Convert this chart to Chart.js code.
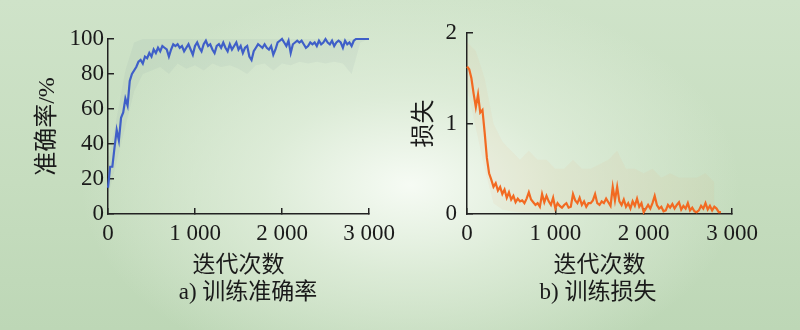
<!DOCTYPE html>
<html>
<head>
<meta charset="utf-8">
<script src="https://cdn.jsdelivr.net/npm/chart.js@4.4.1/dist/chart.umd.min.js"></script>
<style>
  html, body { margin: 0; padding: 0; }
  body {
    width: 800px; height: 330px; position: relative; overflow: hidden;
    background:
      radial-gradient(ellipse 330px 200px at 410px 185px, rgba(246,251,244,1) 0%, rgba(226,239,221,0.8) 45%, rgba(205,226,199,0) 100%),
      linear-gradient(180deg, #cfe3c9 0%, #c6ddbf 55%, #bdd7b6 100%);
  }
  .box { position: absolute; top: 0; width: 400px; height: 330px; }
  .cap {
    position: absolute; top: 280px; transform: translateX(-50%);
    font: 23px/23px "Liberation Serif", "Noto Sans CJK SC"; color: #1a1a1a; white-space: nowrap;
  }
</style>
</head>
<body>
<canvas id="accChart" class="box" style="left:0" width="400" height="330"></canvas>
<canvas id="lossChart" class="box" style="left:400px" width="400" height="330"></canvas>
<div class="cap" style="left:248px">a) 训练准确率</div>
<div class="cap" style="left:598px">b) 训练损失</div>
<script>
// smoothed curves sampled every 25 iterations, raw band every 100
const ITER_STEP = 25;
const BAND_STEP = 100;

const xTickValues = [0, 1000, 2000, 3000];
const xTickLabels = ['0', '1 000', '2 000', '3 000'];
const accTickValues = [0, 20, 40, 60, 80, 100];
const lossTickValues = [0, 1, 2];

const accuracy = [
  15, 27, 27, 38, 48, 42, 55, 58,
  66, 62, 76, 80, 82, 84, 87, 88,
  86, 90, 89, 92, 90, 94, 92, 95,
  93, 96, 95, 94, 90, 94, 97, 96,
  97, 95, 96, 93, 95, 97, 94, 91,
  96, 98, 95, 93, 97, 99, 96, 97,
  94, 92, 96, 97, 95, 98, 95, 93,
  97, 94, 96, 98, 94, 96, 92, 95,
  96, 90, 88, 93, 95, 97, 96, 95,
  97, 95, 94, 96, 91, 94, 98, 99,
  100, 98, 96, 99, 92, 97, 98, 99,
  98, 99, 97, 95, 96, 98, 97, 98,
  96, 99, 97, 98, 100, 98, 97, 99,
  96, 98, 99, 98, 95, 99, 97, 98,
  96, 99, 100, 100, 100, 100, 100, 100,
  100,
];
const accBandHigh = [30, 55, 82, 98, 100, 100, 100, 100, 100, 100, 100, 100, 100, 100, 100, 100,
  100, 100, 100, 100, 100, 100, 100, 100, 100, 100, 100, 100, 100, 100, 100];
const accBandLow = [10, 30, 50, 70, 80, 82, 84, 80, 86, 83, 85, 82, 86, 84, 85, 83,
  80, 85, 86, 82, 86, 85, 87, 86, 87, 86, 87, 86, 80, 98, 100];

const loss = [
  1.63, 1.60, 1.50, 1.33, 1.18, 1.32, 1.12, 1.15,
  0.90, 0.62, 0.45, 0.38, 0.30, 0.34, 0.26, 0.30,
  0.22, 0.27, 0.18, 0.24, 0.16, 0.20, 0.13, 0.17,
  0.14, 0.15, 0.12, 0.17, 0.24, 0.16, 0.13, 0.10,
  0.12, 0.08, 0.22, 0.13, 0.20, 0.14, 0.10, 0.18,
  0.06, 0.12, 0.09, 0.07, 0.10, 0.12, 0.07, 0.08,
  0.22, 0.15, 0.12, 0.18, 0.10, 0.14, 0.08, 0.12,
  0.12, 0.15, 0.22, 0.12, 0.10, 0.14, 0.12, 0.17,
  0.13, 0.09, 0.30, 0.15, 0.30, 0.14, 0.10, 0.16,
  0.08, 0.12, 0.06, 0.14, 0.09, 0.17, 0.08, 0.12,
  0.02, 0.06, 0.10, 0.06, 0.12, 0.20, 0.10, 0.06,
  0.08, 0.03, 0.04, 0.10, 0.07, 0.11, 0.06, 0.10,
  0.13, 0.05, 0.09, 0.06, 0.12, 0.04, 0.07, 0.03,
  0.02, 0.04, 0.09, 0.06, 0.12, 0.05, 0.09, 0.04,
  0.08, 0.06, 0.02, 0.02,
];
const lossBandHigh = [1.9, 1.8, 1.5, 1.0, 0.8, 0.7, 0.6, 0.7, 0.6, 0.6,
  0.5, 0.5, 0.6, 0.5, 0.5, 0.55, 0.6, 0.7, 0.5, 0.5,
  0.45, 0.5, 0.4, 0.45, 0.4, 0.4, 0.4, 0.45, 0.35];
const lossBandLow = [1.4, 0.95, 0.5, 0.12, 0.05, 0.03, 0.02, 0.02, 0.02, 0.02,
  0.01, 0.01, 0.01, 0.01, 0.01, 0.01, 0.01, 0.01, 0.01, 0.01,
  0.01, 0.01, 0.01, 0.01, 0.01, 0.01, 0.01, 0.01, 0.01];

const TEXT = '#1a1a1a';
const AXIS = '#222';
const SERIF = '"Liberation Serif", "Noto Sans CJK SC"';

function toPoints(values, step) {
  return values.map((y, i) => ({ x: i * step, y }));
}

function setTicks(values) {
  return (scale) => { scale.ticks = values.map((value) => ({ value })); };
}

function createCurveChart(canvasId, cfg) {
  const ctx = document.getElementById(canvasId).getContext('2d');
  return new Chart(ctx, {
    type: 'line',
    data: {
      datasets: [
        { data: toPoints(cfg.values, ITER_STEP), borderColor: cfg.color, borderWidth: 2.2,
          pointRadius: 0, tension: 0, fill: false, order: 0, clip: 4 },
        { data: toPoints(cfg.bandHigh, BAND_STEP), borderWidth: 0, pointRadius: 0,
          backgroundColor: cfg.bandColor, fill: '+1', order: 1 },
        { data: toPoints(cfg.bandLow, BAND_STEP), borderWidth: 0, pointRadius: 0,
          fill: false, order: 1 },
      ],
    },
    options: {
      responsive: false,
      animation: false,
      layout: { padding: cfg.padding },
      plugins: { legend: { display: false }, tooltip: { enabled: false } },
      scales: {
        x: {
          type: 'linear', min: 0, max: 3000,
          afterBuildTicks: setTicks(xTickValues),
          afterFit: (s) => { s.height = 66; s.paddingLeft = 0; s.paddingRight = 0; },
          border: { display: true, color: AXIS, width: 1.5 },
          grid: { drawOnChartArea: false, drawTicks: true, tickLength: -6, color: AXIS, lineWidth: 1.5 },
          ticks: { padding: 12, color: TEXT, font: { family: SERIF, size: 23 },
                   maxRotation: 0, callback: (v, i) => xTickLabels[i] },
          title: { display: true, text: '迭代次数', color: TEXT, padding: 0,
                   font: { family: SERIF, size: 23 } },
        },
        y: {
          min: cfg.yMin, max: cfg.yMax,
          afterBuildTicks: setTicks(cfg.yTicks),
          afterFit: (s) => { s.width = cfg.yWidth; s.paddingTop = 0; s.paddingBottom = 0; },
          border: { display: true, color: AXIS, width: 1.5 },
          grid: { drawOnChartArea: false, drawTicks: true, tickLength: -6, color: AXIS, lineWidth: 1.5 },
          ticks: { padding: cfg.yTickPad, color: TEXT, font: { family: SERIF, size: 23 } },
          title: { display: true, text: cfg.yTitle, color: TEXT, padding: { top: cfg.yTitlePad, bottom: 0 },
                   font: { family: SERIF, size: 24 } },
        },
      },
    },
  });
}

createCurveChart('accChart', {
  values: accuracy, bandHigh: accBandHigh, bandLow: accBandLow,
  color: '#3f5fc8', bandColor: 'rgba(110,140,150,0.08)',
  yMin: 0, yMax: 100, yTicks: accTickValues, yTitle: '准确率/%',
  yWidth: 108, yTickPad: 10, yTitlePad: 33,
  padding: { left: 0, right: 31, top: 39, bottom: 50 },
});

createCurveChart('lossChart', {
  values: loss, bandHigh: lossBandHigh, bandLow: lossBandLow,
  color: '#f26a22', bandColor: 'rgba(240,150,100,0.07)',
  yMin: 0, yMax: 2, yTicks: lossTickValues, yTitle: '损失',
  yWidth: 67, yTickPad: 16, yTitlePad: 10,
  padding: { left: 0, right: 68, top: 33, bottom: 50 },
});
</script>
</body>
</html>
